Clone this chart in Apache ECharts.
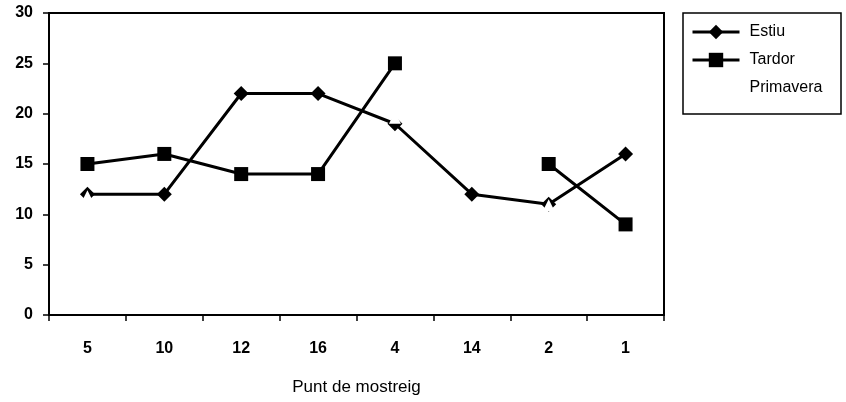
<!DOCTYPE html>
<html>
<head>
<meta charset="utf-8">
<script src="https://cdn.jsdelivr.net/npm/echarts@6/dist/echarts.min.js"></script>
<style>
  html, body { margin: 0; padding: 0; background: #fff; }
  #chart { width: 846px; height: 402px; }
</style>
</head>
<body>
<div id="chart"></div>
<script>
const punts = ['5', '10', '12', '16', '4', '14', '2', '1'];
const estiu = [12, 12, 22, 22, 19, 12, 11, 16];
const tardor = [15, 16, 14, 14, 25, null, 15, 9];
const primavera = [11.8, null, null, null, 19.6, null, 10.9, null];

const chart = echarts.init(document.getElementById('chart'));
const font = 'Liberation Sans, Arial, sans-serif';

chart.setOption({
  animation: false,
  backgroundColor: '#fff',
  grid: { left: 49, right: 182, top: 13, bottom: 87, containLabel: false, outerBoundsMode: 'none' },
  legend: {
    orient: 'vertical',
    left: 683,
    top: 13,
    padding: [11, 8, 8, 8],
    itemGap: 12,
    itemWidth: 47,
    itemHeight: 18,
    lineStyle: { width: 3 },
    textStyle: { fontFamily: font, fontSize: 16, color: '#000', padding: [0, 0, 0, 5] },
    data: ['Estiu', 'Tardor', 'Primavera']
  },
  xAxis: {
    type: 'category',
    data: punts,
    name: 'Punt de mostreig',
    nameLocation: 'middle',
    nameGap: 64,
    nameTextStyle: { fontFamily: font, fontSize: 17, color: '#000' },
    axisLine: { lineStyle: { color: '#000', width: 2 } },
    axisTick: { show: true, length: 6, inside: false, lineStyle: { color: '#000', width: 1.5 } },
    axisLabel: { fontFamily: font, fontSize: 16, fontWeight: 'bold', color: '#000', margin: 26 },
    splitLine: { show: false }
  },
  yAxis: {
    type: 'value',
    min: 0,
    max: 30,
    interval: 5,
    axisLine: { show: true, lineStyle: { color: '#000', width: 2 } },
    axisTick: { show: true, length: 6, lineStyle: { color: '#000', width: 1.5 } },
    axisLabel: { fontFamily: font, fontSize: 16, fontWeight: 'bold', color: '#000', margin: 16 },
    splitLine: { show: false }
  },
  graphic: [
    {
      type: 'rect',
      shape: { x: 49, y: 13, width: 615, height: 302 },
      style: { fill: 'none', stroke: '#000', lineWidth: 2 },
      silent: true
    },
    {
      type: 'rect',
      shape: { x: 683, y: 13, width: 158, height: 101 },
      style: { fill: 'none', stroke: '#000', lineWidth: 1.5 },
      silent: true
    }
  ],
  series: [
    {
      name: 'Estiu',
      type: 'line',
      data: estiu,
      symbol: 'diamond',
      symbolSize: 15,
      itemStyle: { color: '#000', borderWidth: 0 },
      lineStyle: { color: '#000', width: 3 },
      z: 3
    },
    {
      name: 'Tardor',
      type: 'line',
      data: tardor,
      symbol: 'rect',
      symbolSize: 14,
      connectNulls: false,
      itemStyle: { color: '#000', borderWidth: 0 },
      lineStyle: { color: '#000', width: 3 },
      z: 3
    },
    {
      name: 'Primavera',
      type: 'line',
      data: primavera,
      symbol: 'triangle',
      symbolSize: 12,
      connectNulls: false,
      itemStyle: { color: '#fff', borderWidth: 0 },
      lineStyle: { color: '#fff', width: 0, opacity: 0 },
      z: 4
    }
  ]
});
</script>
</body>
</html>
